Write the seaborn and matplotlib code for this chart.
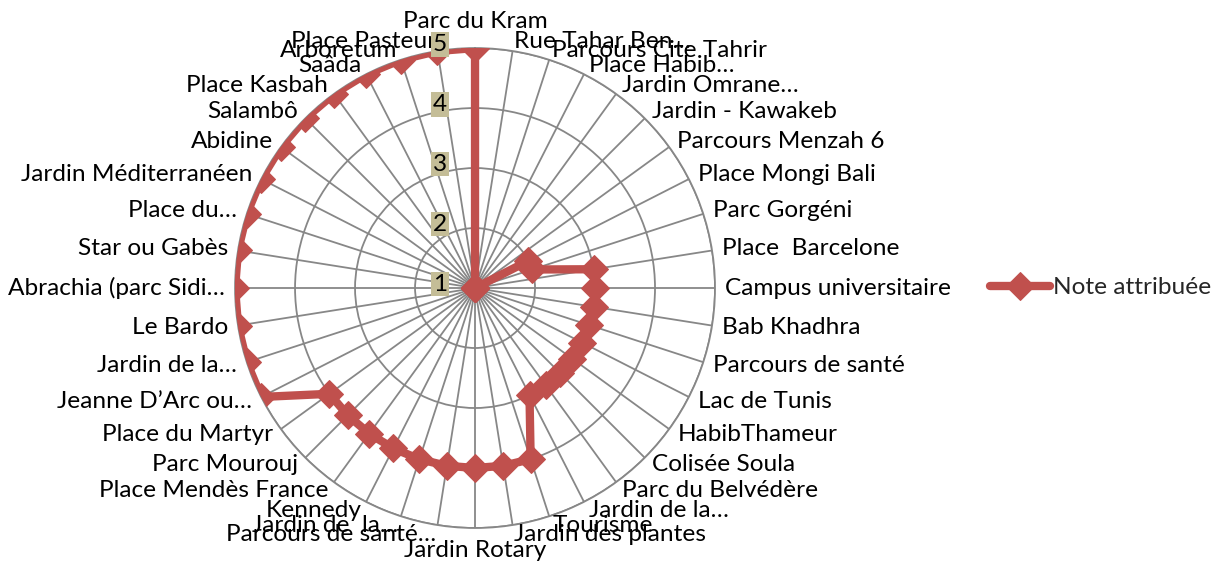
import numpy as np
import pandas as pd
import seaborn as sns
import matplotlib.pyplot as plt
from matplotlib.transforms import offset_copy

# catégories (sens horaire, en partant du haut)
categories = ['Parc du Kram', 'Rue Tahar Ben…', 'Parcours Cite Tahrir', 'Place Habib…',
              'Jardin Omrane…', 'Jardin - Kawakeb', 'Parcours Menzah 6', 'Place Mongi Bali',
              'Parc Gorgéni', 'Place  Barcelone', 'Campus universitaire', 'Bab Khadhra',
              'Parcours de santé', 'Lac de Tunis', 'HabibThameur', 'Colisée Soula',
              'Parc du Belvédère', 'Jardin de la…', 'Tourisme', 'Jardin des plantes',
              'Jardin Rotary', 'Parcours de santé…', 'Jardin de  la…', 'Kennedy',
              'Place Mendès France', 'Parc Mourouj', 'Place du Martyr', 'Jeanne D’Arc ou…',
              'Jardin de la…', 'Le Bardo', 'Abrachia (parc Sidi…', 'Star ou Gabès',
              'Place du…', 'Jardin Méditerranéen', 'Abidine', 'Salambô',
              'Place Kasbah', 'Saâda', 'Arboretum', 'Place Pasteur']

notes = [5, 1, 1, 1, 1, 1, 1, 2, 2, 3,
         3, 3, 3, 3, 3, 3, 3, 3, 4, 4,
         4, 4, 4, 4, 4, 4, 4, 5, 5, 5,
         5, 5, 5, 5, 5, 5, 5, 5, 5, 5]

rticks = [1, 2, 3, 4, 5]
serie = 'Note attribuée'

rouge = '#C0504D'
gris = '#878787'
fs = 17.6

sns.set_style("white")
plt.rcParams['font.family'] = ['Lato', 'DejaVu Sans']

fig = plt.figure(figsize=(12.16, 5.69), dpi=100)
ax = fig.add_axes([0.1933, 0.072, 0.3947, 0.8436], projection='polar')
ax.set_theta_zero_location('N')
ax.set_theta_direction(-1)

n = len(categories)
theta = np.arange(n) * 2 * np.pi / n
df = pd.DataFrame({'theta': np.append(theta, 2 * np.pi),
                   'note': notes + notes[:1]})

sns.lineplot(data=df, x='theta', y='note', sort=False, ax=ax, color=rouge,
             lw=6, marker='D', markersize=14, markeredgecolor=rouge,
             label=serie, legend=False, zorder=3)
ax.set_xlabel('')
ax.set_ylabel('')

ax.set_ylim(1, 5)
ax.set_yticks(rticks[1:])
ax.set_yticklabels([])
ax.set_xticks(theta)
ax.set_xticklabels([])
ax.grid(color=gris, lw=1.3)
ax.spines['polar'].set_color(gris)
ax.spines['polar'].set_linewidth(1.3)

# étiquettes de l'axe radial
for v in rticks:
    tr = offset_copy(ax.transData, fig=fig, x=-35, y=4, units='dots')
    ax.text(0, v, str(v), transform=tr, ha='center', va='center', fontsize=fs,
            color='black', zorder=5,
            bbox=dict(boxstyle='square,pad=0.08', facecolor='#C4BD97', edgecolor='none'))

# étiquettes des catégories
for t, lab in zip(theta, categories):
    s, c = np.sin(t), np.cos(t)
    if abs(s) < 1e-6:
        ha = 'center'
        va = 'bottom' if c > 0 else 'top'
        d = 16 if c > 0 else 12
    else:
        ha = 'left' if s > 0 else 'right'
        va = 'center'
        d = 10
    tr = offset_copy(ax.transData, fig=fig, x=d * s, y=d * c, units='dots')
    ax.text(t, 5, lab, transform=tr, ha=ha, va=va, fontsize=fs, color='black')

h, l = ax.get_legend_handles_labels()
fig.legend(h, l, loc='center left', bbox_to_anchor=(0.796, 0.494), frameon=False,
           handlelength=2.45, handletextpad=0.12, fontsize=fs)

plt.savefig('out.png', dpi=100)
